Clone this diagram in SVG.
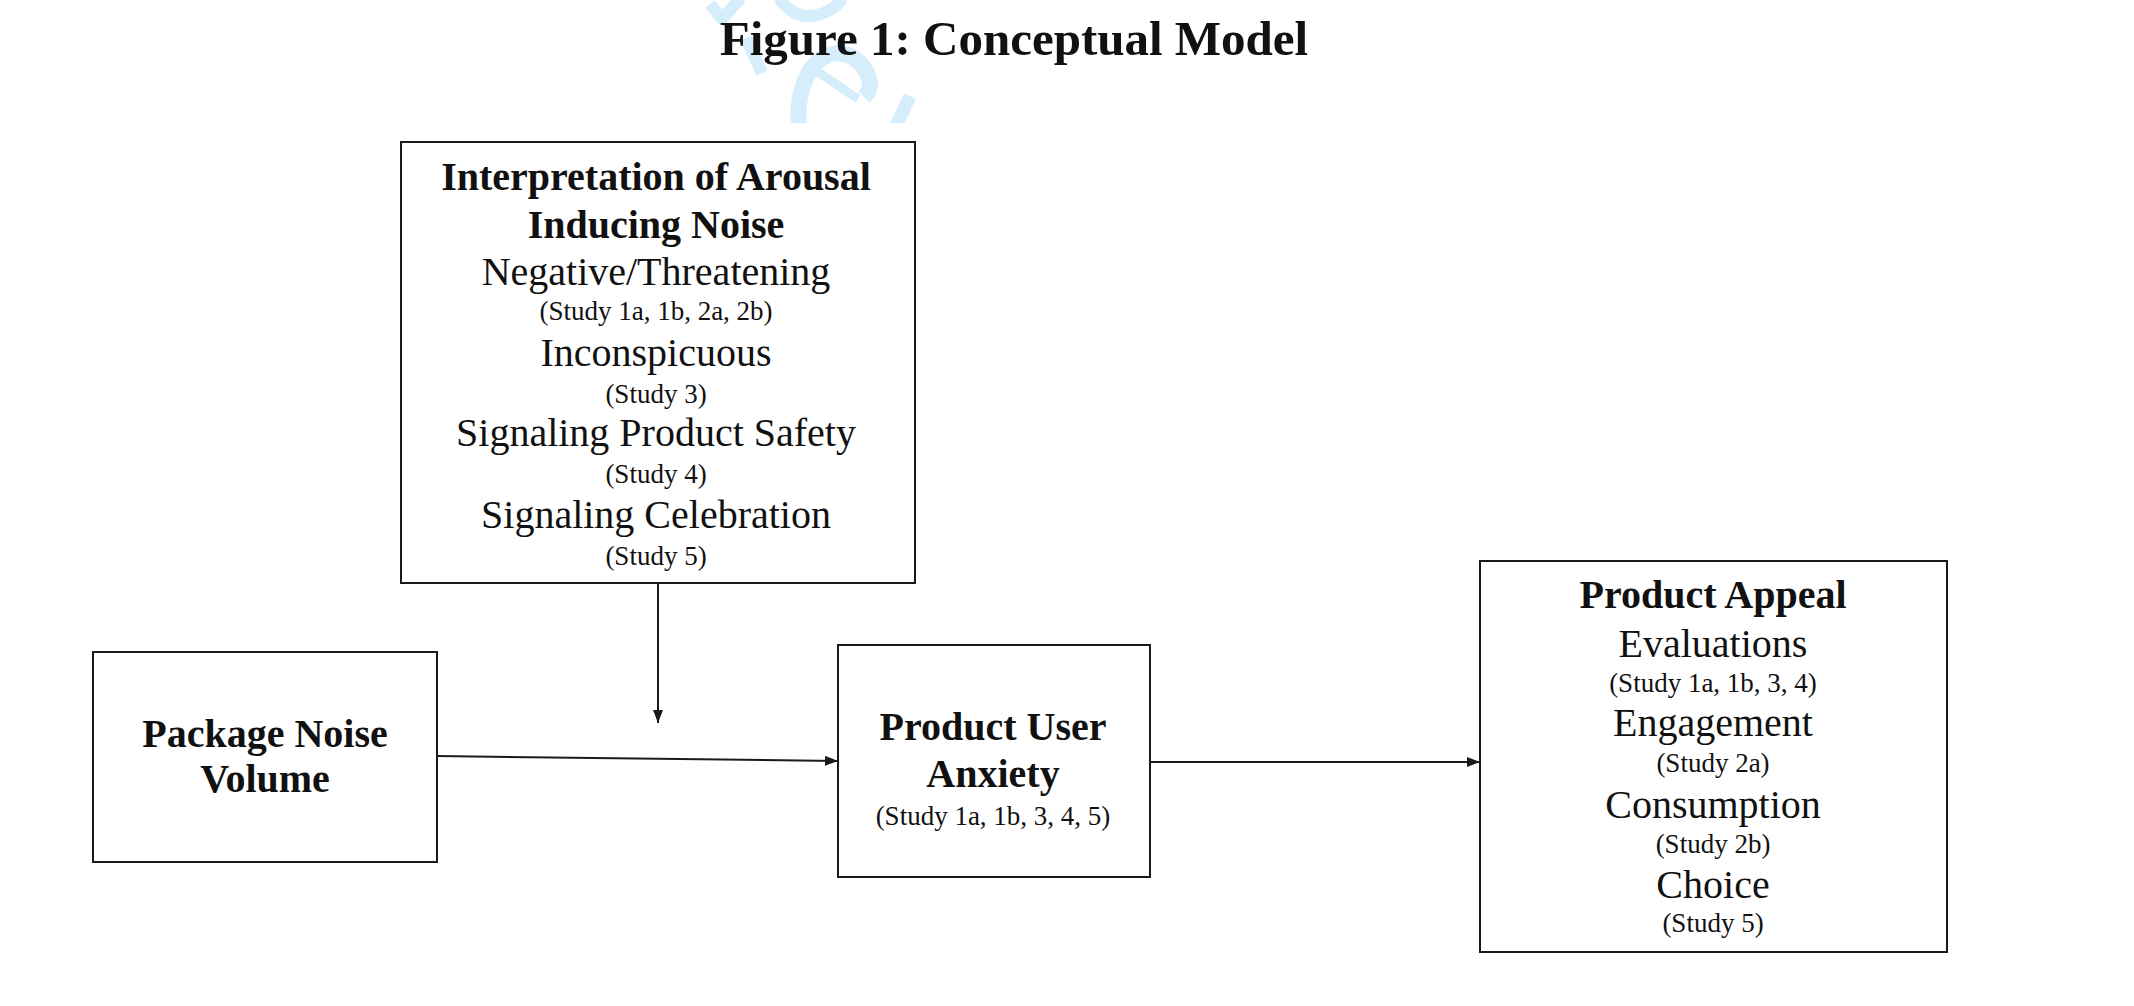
<svg xmlns="http://www.w3.org/2000/svg" width="2134" height="1006" viewBox="0 0 2134 1006">
<defs>
<style>
.box{fill:#fff;stroke:#1a1a1a;stroke-width:2}
.t{font-family:"Liberation Serif","Times New Roman",serif;fill:#111;text-anchor:middle}
.b{font-weight:bold;font-size:40px}
.r{font-size:40px}
.s{font-size:27px}
.wm{fill:none;stroke:#d6edfb;stroke-linecap:butt;stroke-linejoin:round}
.conn{stroke:#1a1a1a;stroke-width:2;fill:none}
</style>
<marker id="ah" markerUnits="userSpaceOnUse" markerWidth="14" markerHeight="12" refX="13" refY="5" orient="auto">
<path d="M0,0 L13,5 L0,10 z" fill="#1a1a1a"/>
</marker>
<clipPath id="wmclip"><rect x="0" y="0" width="2134" height="123"/></clipPath>
</defs>
<rect x="0" y="0" width="2134" height="1006" fill="#fff"/>
<g id="watermark" clip-path="url(#wmclip)">
<path class="wm" stroke-width="12" d="M710,4 L722,19 L741,-2"/>
<path class="wm" stroke-width="12" d="M779,-2 Q790,14 806,16 Q830,16 843,-2"/>
<path class="wm" stroke-width="12" d="M746,38 L762,73"/>
<path class="wm" stroke-width="16" d="M799,126 C796,96 806,64 828,55 C846,49 863,60 869,78 C872,86 869,92 864,97"/>
<path class="wm" stroke-width="9" d="M812,68 L858,99"/>
<path class="wm" stroke-width="13" d="M910,96 L896,126"/>
</g>
<g id="title">
<text class="t" x="1014" y="55" font-size="49" font-weight="bold">Figure 1: Conceptual Model</text>
</g>
<g id="connectors">
<line class="conn" x1="658" y1="583" x2="658" y2="723" marker-end="url(#ah)"/>
<line class="conn" x1="437" y1="756" x2="838" y2="761" marker-end="url(#ah)"/>
<line class="conn" x1="1150" y1="762" x2="1480" y2="762" marker-end="url(#ah)"/>
</g>
<g id="interpretation">
<rect class="box" x="401" y="142" width="514" height="441"/>
<text class="t b" x="656" y="190">Interpretation of Arousal</text>
<text class="t b" x="656" y="238">Inducing Noise</text>
<text class="t r" x="656" y="285">Negative/Threatening</text>
<text class="t s" x="656" y="320">(Study 1a, 1b, 2a, 2b)</text>
<text class="t r" x="656" y="366">Inconspicuous</text>
<text class="t s" x="656" y="403">(Study 3)</text>
<text class="t r" x="656" y="446">Signaling Product Safety</text>
<text class="t s" x="656" y="483">(Study 4)</text>
<text class="t r" x="656" y="528">Signaling Celebration</text>
<text class="t s" x="656" y="565">(Study 5)</text>
</g>
<g id="package-noise">
<rect class="box" x="93" y="652" width="344" height="210"/>
<text class="t b" x="265" y="747">Package Noise</text>
<text class="t b" x="265" y="792">Volume</text>
</g>
<g id="anxiety">
<rect class="box" x="838" y="645" width="312" height="232"/>
<text class="t b" x="993" y="740">Product User</text>
<text class="t b" x="993" y="787">Anxiety</text>
<text class="t s" x="993" y="825">(Study 1a, 1b, 3, 4, 5)</text>
</g>
<g id="product-appeal">
<rect class="box" x="1480" y="561" width="467" height="391"/>
<text class="t b" x="1713" y="608">Product Appeal</text>
<text class="t r" x="1713" y="657">Evaluations</text>
<text class="t s" x="1713" y="692">(Study 1a, 1b, 3, 4)</text>
<text class="t r" x="1713" y="736">Engagement</text>
<text class="t s" x="1713" y="772">(Study 2a)</text>
<text class="t r" x="1713" y="818">Consumption</text>
<text class="t s" x="1713" y="853">(Study 2b)</text>
<text class="t r" x="1713" y="898">Choice</text>
<text class="t s" x="1713" y="932">(Study 5)</text>
</g>
</svg>
